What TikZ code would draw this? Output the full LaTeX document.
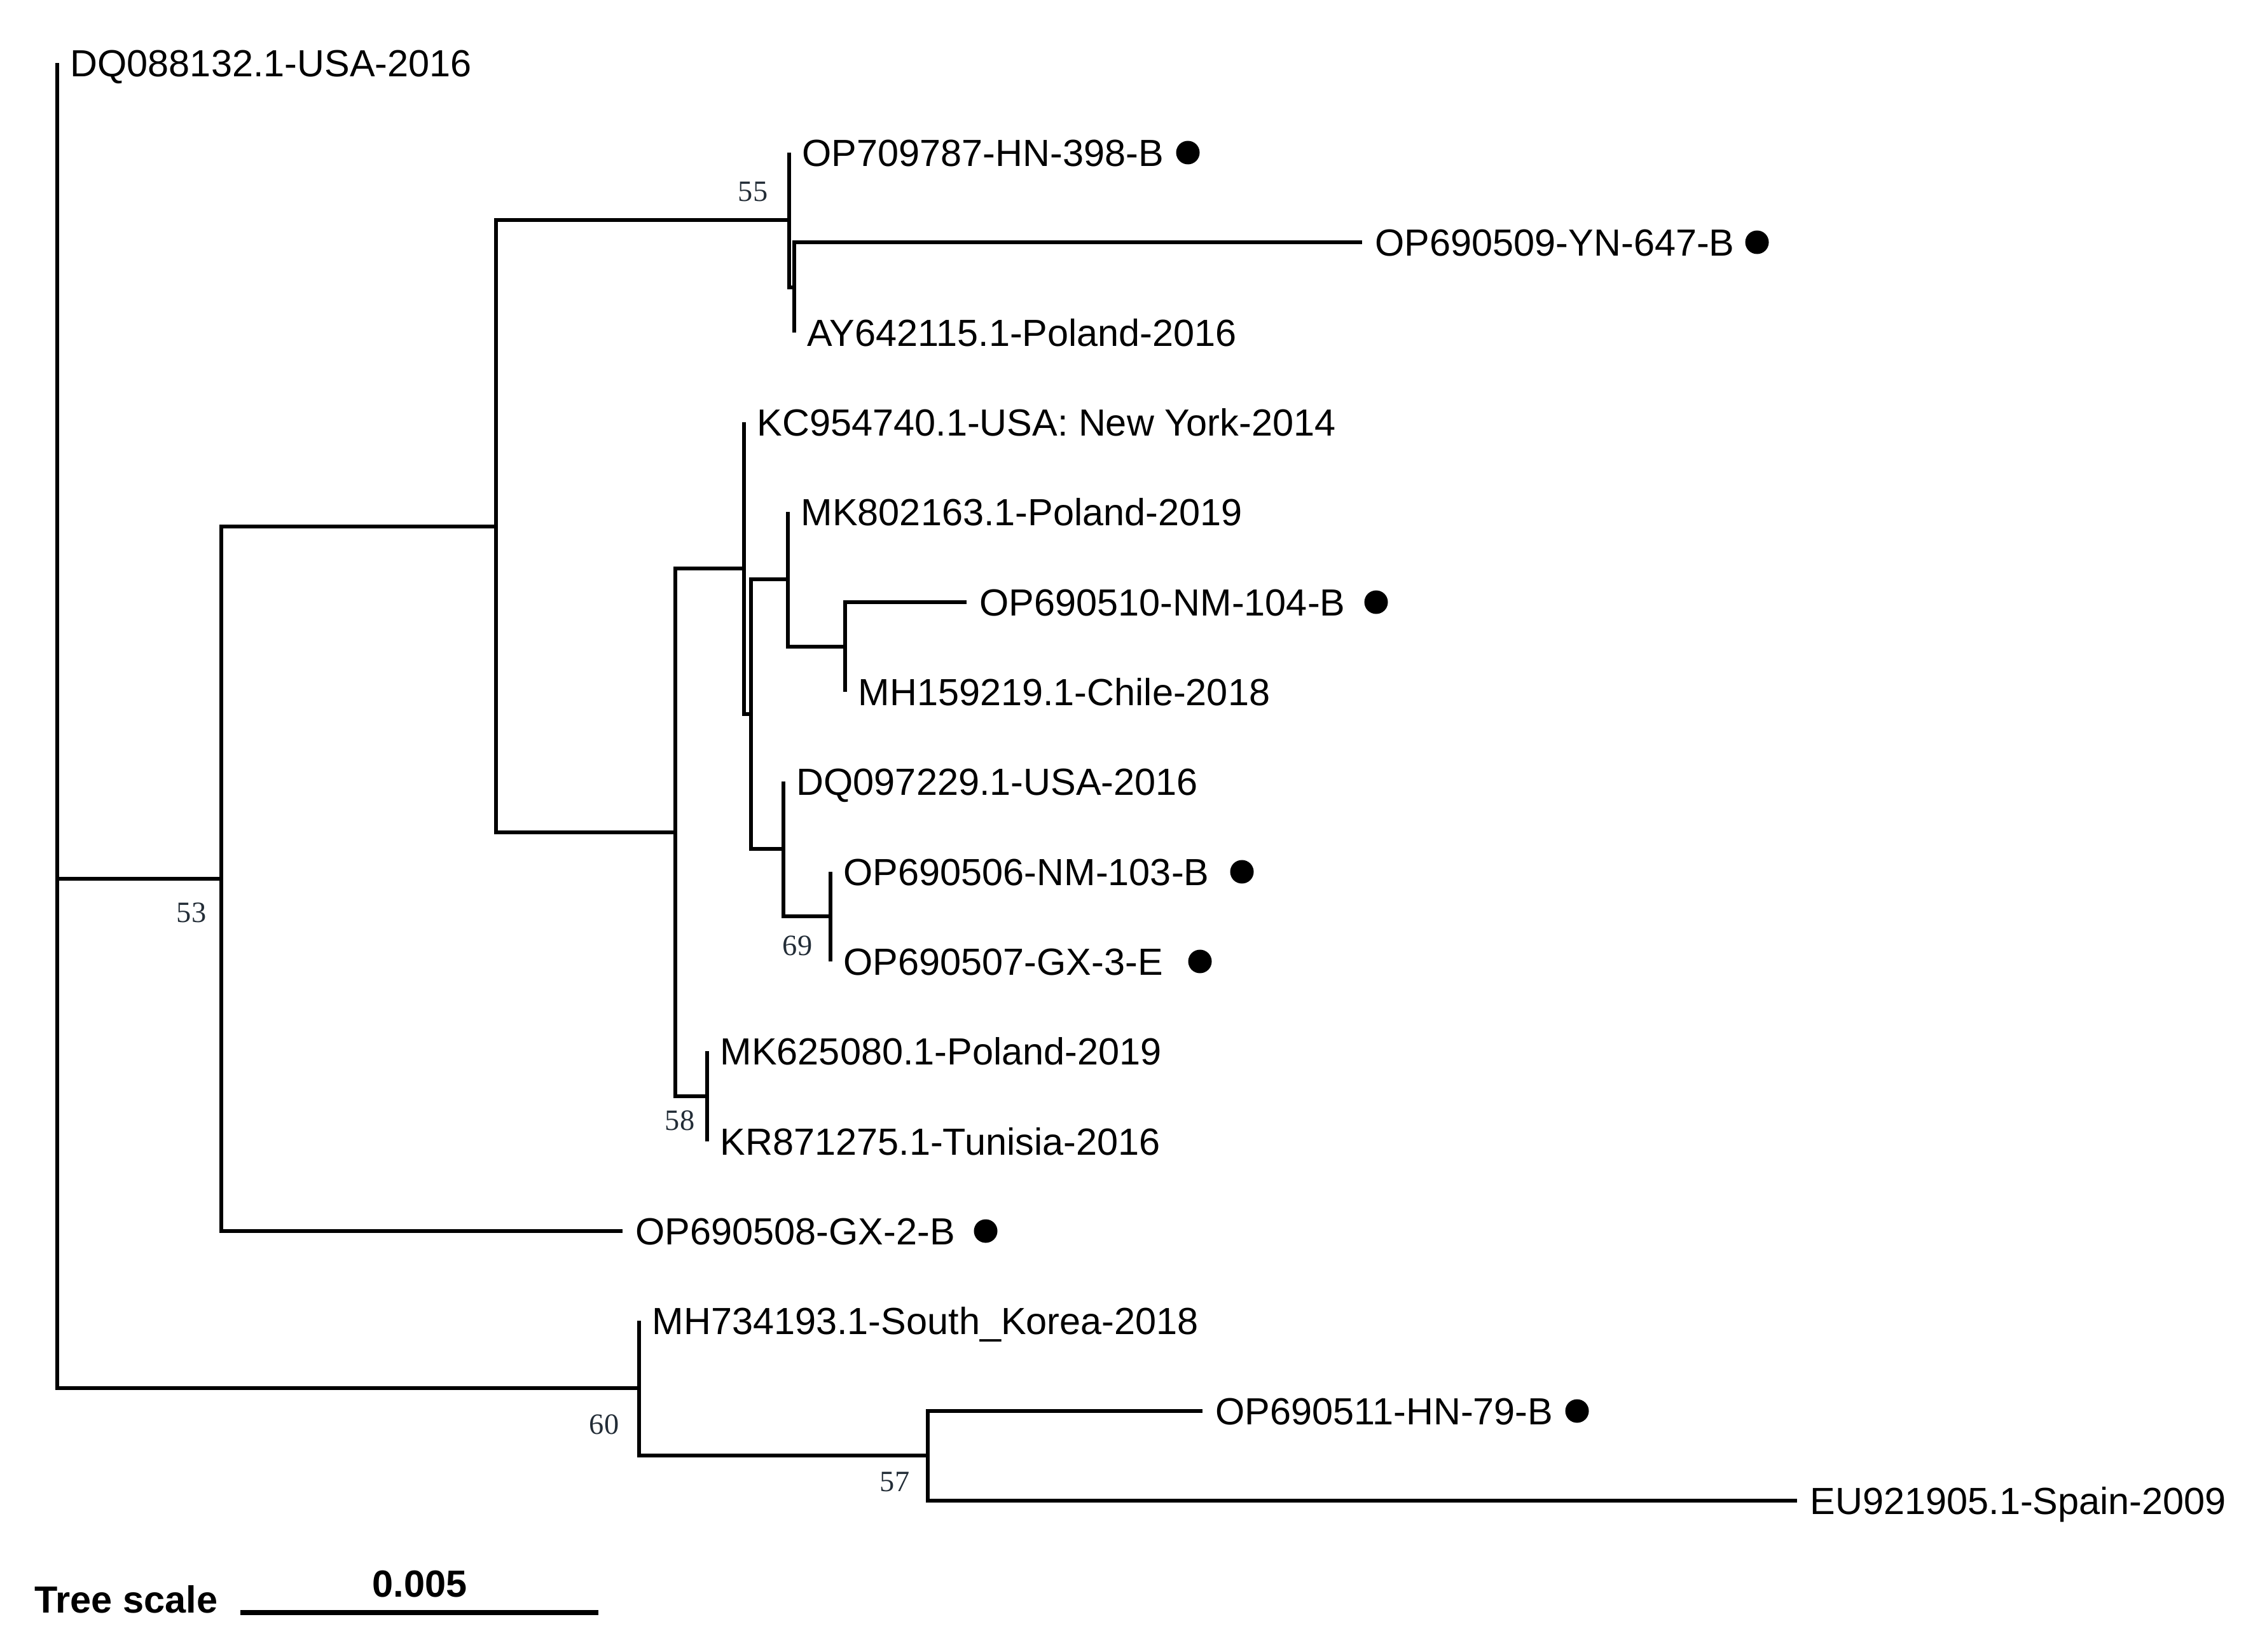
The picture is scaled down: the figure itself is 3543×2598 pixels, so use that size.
\documentclass[tikz,border=0pt]{standalone}
\usepackage{fontspec}
\setmainfont{Liberation Sans}
\newfontfamily\bootserif{Liberation Serif}
\usetikzlibrary{positioning}

\definecolor{bootcol}{RGB}{35,45,55}

\tikzset{
  branch/.style={line width=1.7pt, line join=miter},
  taxon/.style={inner sep=0pt, text height=0.425cm, text depth=0cm, font=\fontsize{16.9pt}{19pt}\selectfont},
  boot/.style={inner sep=0pt, text height=0.31cm, text depth=0cm, text=bootcol, font=\bootserif\fontsize{13.2pt}{15pt}\selectfont},
  seqdot/.style={circle, fill, inner sep=0pt, minimum size=0.37cm},
  scalebar/.style={line width=2.4pt},
  scaletext/.style={inner sep=0pt, font=\bfseries\fontsize{16.9pt}{19pt}\selectfont}
}

\begin{document}
\begin{tikzpicture}[x=0.01cm, y=-0.01cm]
    \useasboundingbox (0,0) rectangle (3543,2598);

    % leaf tips
    \coordinate (dq088132) at (90,99);
    \coordinate (op709787) at (1241,240);
    \coordinate (op690509) at (2142,381);
    \coordinate (ay642115) at (1249,523);
    \coordinate (kc954740) at (1170,664);
    \coordinate (mk802163) at (1239,805);
    \coordinate (op690510) at (1520,947);
    \coordinate (mh159219) at (1329,1088);
    \coordinate (dq097229) at (1232,1229);
    \coordinate (op690506) at (1306,1371);
    \coordinate (op690507) at (1306,1512);
    \coordinate (mk625080) at (1112,1653);
    \coordinate (kr871275) at (1112,1795);
    \coordinate (op690508) at (979,1936);
    \coordinate (mh734193) at (1005,2077);
    \coordinate (op690511) at (1891,2219);
    \coordinate (eu921905) at (2826,2360);

    % inner nodes
    \coordinate (nc2) at (1249,452);
    \coordinate (nc) at (1241,346);
    \coordinate (nh) at (1329,1017);
    \coordinate (ng) at (1239,911);
    \coordinate (nj) at (1306,1441);
    \coordinate (ni) at (1232,1335);
    \coordinate (nf) at (1181,1123);
    \coordinate (ne) at (1170,894);
    \coordinate (nk) at (1112,1724);
    \coordinate (nd) at (1062,1309);
    \coordinate (nb) at (780,828);
    \coordinate (n53) at (348,1382);
    \coordinate (n57) at (1459,2289);
    \coordinate (n60) at (1005,2183);
    \coordinate (root) at (90,1141);

    % branches
    \draw[branch] (nc2) |- (op690509) (nc2) -- (ay642115);
    \draw[branch] (nc) -- (op709787) (nc) |- (nc2);
    \draw[branch] (nh) |- (op690510) (nh) -- (mh159219);
    \draw[branch] (ng) -- (mk802163) (ng) |- (nh);
    \draw[branch] (nj) -- (op690506) (nj) -- (op690507);
    \draw[branch] (ni) -- (dq097229) (ni) |- (nj);
    \draw[branch] (nf) |- (ng) (nf) |- (ni);
    \draw[branch] (ne) -- (kc954740) (ne) |- (nf);
    \draw[branch] (nk) -- (mk625080) (nk) -- (kr871275);
    \draw[branch] (nd) |- (ne) (nd) |- (nk);
    \draw[branch] (nb) |- (nc) (nb) |- (nd);
    \draw[branch] (n53) |- (nb) (n53) |- (op690508);
    \draw[branch] (n57) |- (op690511) (n57) |- (eu921905);
    \draw[branch] (n60) -- (mh734193) (n60) |- (n57);
    \draw[branch] (root) -- (dq088132) (root) |- (n53) (root) |- (n60);

    % taxa
    \node[taxon, right=0.2cm of dq088132] (dq088132t) {DQ088132.1-USA-2016};
    \node[taxon, right=0.2cm of op709787] (op709787t) {OP709787-HN-398-B};
    \node[taxon, right=0.2cm of op690509] (op690509t) {OP690509-YN-647-B};
    \node[taxon, right=0.2cm of ay642115] (ay642115t) {AY642115.1-Poland-2016};
    \node[taxon, right=0.2cm of kc954740] (kc954740t) {KC954740.1-USA: New York-2014};
    \node[taxon, right=0.2cm of mk802163] (mk802163t) {MK802163.1-Poland-2019};
    \node[taxon, right=0.2cm of op690510] (op690510t) {OP690510-NM-104-B};
    \node[taxon, right=0.2cm of mh159219] (mh159219t) {MH159219.1-Chile-2018};
    \node[taxon, right=0.2cm of dq097229] (dq097229t) {DQ097229.1-USA-2016};
    \node[taxon, right=0.2cm of op690506] (op690506t) {OP690506-NM-103-B};
    \node[taxon, right=0.2cm of op690507] (op690507t) {OP690507-GX-3-E};
    \node[taxon, right=0.2cm of mk625080] (mk625080t) {MK625080.1-Poland-2019};
    \node[taxon, right=0.2cm of kr871275] (kr871275t) {KR871275.1-Tunisia-2016};
    \node[taxon, right=0.2cm of op690508] (op690508t) {OP690508-GX-2-B};
    \node[taxon, right=0.2cm of mh734193] (mh734193t) {MH734193.1-South\_Korea-2018};
    \node[taxon, right=0.2cm of op690511] (op690511t) {OP690511-HN-79-B};
    \node[taxon, right=0.2cm of eu921905] (eu921905t) {EU921905.1-Spain-2009};

    % new isolates
    \node[seqdot] (op709787d) at (1868,240) {};
    \node[seqdot] (op690509d) at (2763,381) {};
    \node[seqdot] (op690510d) at (2164,947) {};
    \node[seqdot] (op690506d) at (1953,1371) {};
    \node[seqdot] (op690507d) at (1887,1512) {};
    \node[seqdot] (op690508d) at (1550,1936) {};
    \node[seqdot] (op690511d) at (2480,2219) {};

    % bootstrap values
    \node[boot, above left=0.29cm and 0.33cm of nc] (b55) {55};
    \node[boot, below left=0.37cm and 0.23cm of n53] (b53) {53};
    \node[boot, below left=0.30cm and 0.28cm of nj] (b69) {69};
    \node[boot, below left=0.22cm and 0.19cm of nk] (b58) {58};
    \node[boot, below left=0.41cm and 0.31cm of n60] (b60) {60};
    \node[boot, below left=0.25cm and 0.28cm of n57] (b57) {57};

    % scale
    \coordinate (sb1) at (378,2536);
    \coordinate (sb2) at (941,2536);
    \draw[scalebar] (sb1) -- (sb2);
    \node[scaletext, anchor=base west] (scalename) at (54,2536) {Tree scale};
    \node[scaletext, anchor=base] (scalelen) at (660,2511) {0.005};
\end{tikzpicture}
\end{document}
